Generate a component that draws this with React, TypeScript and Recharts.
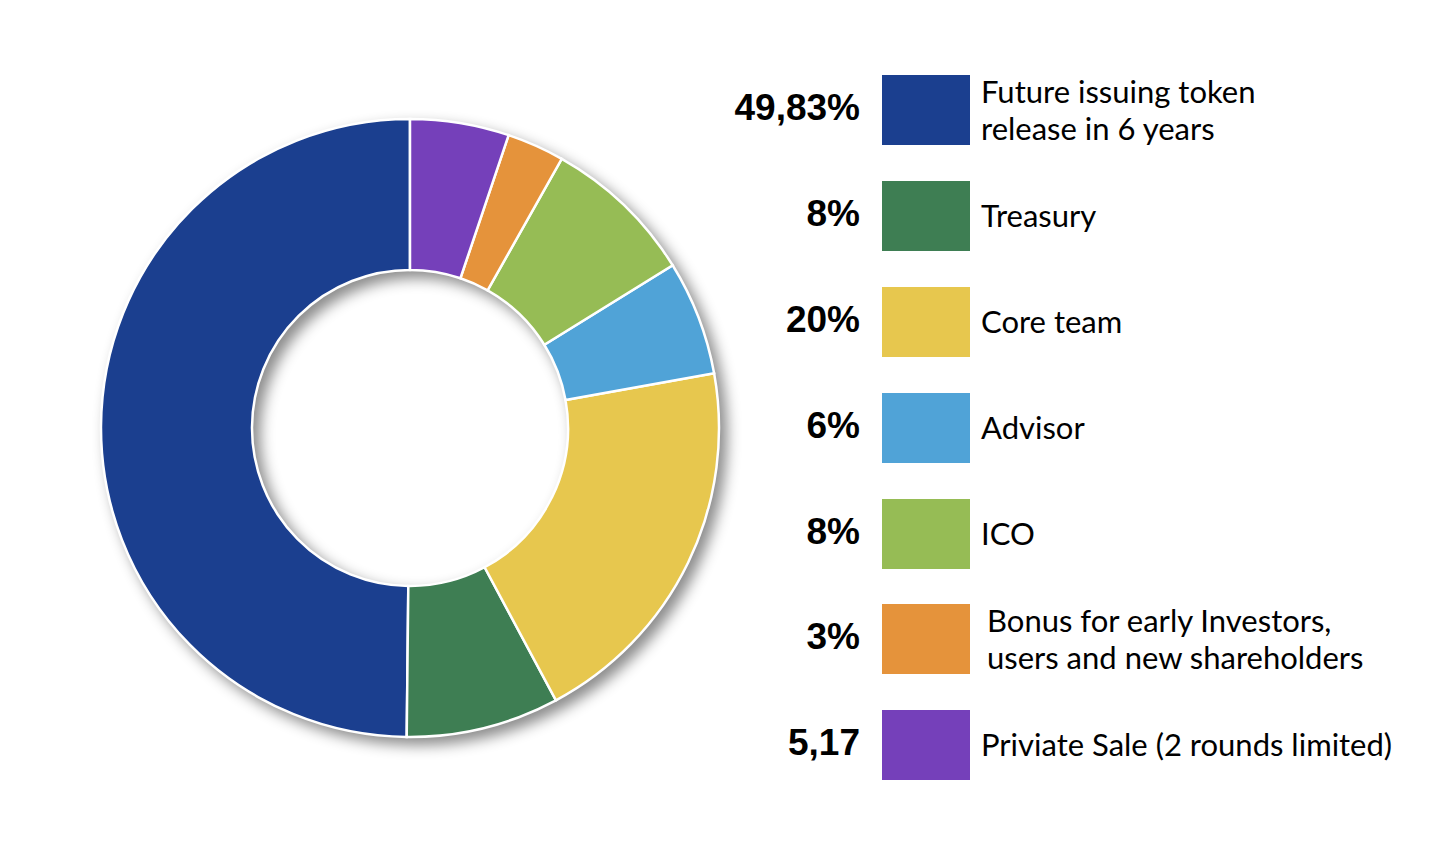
import React from 'react';
import { PieChart, Pie, Cell } from 'recharts';

const labels = [
  ['Future issuing token', 'release in 6 years'],
  ['Treasury'],
  ['Core team'],
  ['Advisor'],
  ['ICO'],
  ['Bonus for early Investors,', 'users and new shareholders'],
  ['Priviate Sale (2 rounds limited)'],
];
const values = [49.83, 8, 20, 6, 8, 3, 5.17];
const valueText = ['49,83%', '8%', '20%', '6%', '8%', '3%', '5,17'];
const colors = ['#1b3f8f', '#3e7e53', '#e7c74e', '#50a3d7', '#96bc55', '#e5933b', '#7540ba'];
const rowTops = [75, 181, 287, 393, 499, 604, 710];
const labelIndent = [0, 0, 0, 0, 0, 6, 0];

const data = values.map((v, i) => ({ name: labels[i].join(' '), value: v }));

export default function App() {
  return (
    <div
      style={{
        position: 'absolute',
        left: 0,
        top: 0,
        width: 1442,
        height: 848,
        background: '#fff',
        overflow: 'hidden',
      }}
    >
      <div
        style={{
          position: 'absolute',
          left: 0,
          top: 0,
          filter: 'drop-shadow(7px 7px 7px rgba(0,0,0,0.45))',
        }}
      >
        <PieChart width={760} height={848} margin={{ top: 0, right: 0, bottom: 0, left: 0 }}>
          <Pie
            data={data}
            dataKey="value"
            cx={410}
            cy={428}
            innerRadius={158}
            outerRadius={309}
            startAngle={90}
            endAngle={450}
            stroke="#fff"
            strokeWidth={2.5}
            isAnimationActive={false}
          >
            {data.map((d, i) => (
              <Cell key={d.name} fill={colors[i]} />
            ))}
          </Pie>
        </PieChart>
      </div>

      {labels.map((lines, i) => (
        <div key={i}>
          <div
            style={{
              position: 'absolute',
              left: 640,
              width: 220,
              top: rowTops[i] - 2,
              height: 70,
              display: 'flex',
              alignItems: 'center',
              justifyContent: 'flex-end',
              fontFamily: '"Liberation Sans", Arial, sans-serif',
              fontWeight: 'bold',
              fontSize: 37,
              color: '#000',
            }}
          >
            {valueText[i]}
          </div>
          <div
            style={{
              position: 'absolute',
              left: 882,
              top: rowTops[i],
              width: 88,
              height: 70,
              background: colors[i],
            }}
          />
          <div
            style={{
              position: 'absolute',
              left: 981 + labelIndent[i],
              top: rowTops[i],
              height: 70,
              display: 'flex',
              flexDirection: 'column',
              justifyContent: 'center',
              fontFamily: 'Lato, sans-serif',
              fontSize: 31,
              lineHeight: '37.5px',
              color: '#000',
              whiteSpace: 'nowrap',
            }}
          >
            {lines.map((l) => (
              <div key={l}>{l}</div>
            ))}
          </div>
        </div>
      ))}
    </div>
  );
}
